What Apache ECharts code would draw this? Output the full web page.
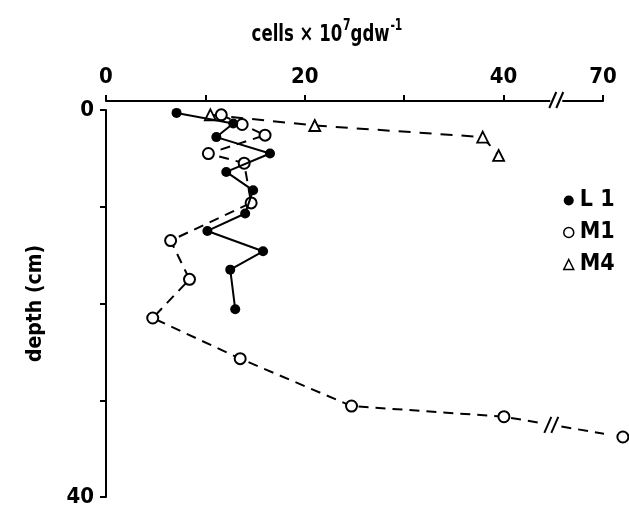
<!DOCTYPE html>
<html>
<head>
<meta charset="utf-8">
<script src="https://cdn.jsdelivr.net/npm/echarts@6/dist/echarts.min.js"></script>
<style>html,body{margin:0;padding:0;background:#fff}#c{width:629px;height:511px}</style>
</head>
<body>
<div id="c"></div>
<script>
// ---- data (cells x10^7 gdw^-1 vs depth in cm) ----
const depthL1 = [0.3, 1.4, 2.8, 4.5, 6.4, 8.3, 10.7, 12.5, 14.6, 16.5, 20.6];
const cellsL1 = [7.1, 12.8, 11.1, 16.5, 12.1, 14.8, 14.0, 10.2, 15.8, 12.5, 13.0];
const depthM1 = [0.5, 1.5, 2.6, 4.5, 5.5, 9.6, 13.5, 17.5, 21.5, 25.7, 30.6, 31.7, 33.8];
const cellsM1 = [11.6, 13.7, 16.0, 10.3, 13.9, 14.6, 6.5, 8.4, 4.7, 13.5, 24.7, 40.1, 76];
const depthM4 = [0.5, 1.6, 2.8, 4.7];
const cellsM4 = [10.5, 21.0, 37.9, 39.5];
const xTickLabels = [0, 20, 40, 70];
const yTickLabels = [0, 40];
const seriesNames = ['L 1', 'M1', 'M4'];

// broken x scale: 0..40 linear, 40..70 compressed into one 10-unit step
const BREAK_LO = 40, BREAK_HI = 70;
const K = (BREAK_HI - BREAK_LO) / 10;
function fwd(v) { return v <= BREAK_LO ? v : BREAK_LO + (v - BREAK_LO) / K; }
function inv(t) { return t <= BREAK_LO ? t : BREAK_LO + (t - BREAK_LO) * K; }
function pts(xs, ys) { return xs.map((x, i) => [fwd(x), ys[i]]); }

const FONT = "'DejaVu Sans Condensed', 'Liberation Sans Narrow', sans-serif";
const chart = echarts.init(document.getElementById('c'), null, {renderer: 'canvas'});

function slashes(cx, cy) {
  const out = [];
  [-3.5, 3.5].forEach(dx => {
    out.push({type: 'line', shape: {x1: cx + dx - 3.5, y1: cy + 8, x2: cx + dx + 3.5, y2: cy - 8},
      style: {stroke: '#000', lineWidth: 2}});
  });
  return out;
}

const m1 = pts(cellsM1, depthM1);
const XMAX = fwd(BREAK_HI);
const labelStyle = {color: '#000', fontFamily: FONT, fontWeight: 'bold', fontSize: 22};

chart.setOption({
  animation: false,
  backgroundColor: '#fff',
  graphic: [{
    type: 'text', x: 327, y: 19, scaleX: 0.8, silent: true,
    style: {
      text: '{a|cells × 10}{s|7}{a|gdw}{s|-1}', align: 'center', verticalAlign: 'top',
      rich: {
        a: {fontFamily: FONT, fontWeight: 'bold', fontSize: 23, fill: '#000', lineHeight: 28, verticalAlign: 'bottom'},
        s: {fontFamily: FONT, fontWeight: 'bold', fontSize: 15, fill: '#000', lineHeight: 28, verticalAlign: 'top', padding: [0, 0, 0, 1]}
      }
    }
  }],
  legend: {
    orient: 'vertical', left: 558, top: 184, itemGap: 9, itemWidth: 10, itemHeight: 10,
    data: [{name: seriesNames[0], icon: 'circle'}, {name: seriesNames[1], icon: 'circle', itemStyle: {borderWidth: 1.5}},
           {name: seriesNames[2], icon: 'triangle', itemStyle: {borderWidth: 1.5}}],
    textStyle: {fontFamily: FONT, fontWeight: 'bold', fontSize: 23, color: '#000', padding: [0, 0, 0, 1]}
  },
  grid: [
    {left: 106, right: 26, top: 110, bottom: 14, containLabel: false, outerBoundsMode: 'none'},
    {left: 106, right: 26, top: 100, height: 1, containLabel: false, outerBoundsMode: 'none'}
  ],
  xAxis: [
    {gridIndex: 0, type: 'value', min: 0, max: XMAX, show: false},
    {
      gridIndex: 1, type: 'value', position: 'top', min: 0, max: XMAX, interval: 10,
      axisLine: {show: true, lineStyle: {color: '#000', width: 2}},
      axisTick: {show: true, inside: false, length: 6, lineStyle: {color: '#000', width: 2}},
      axisLabel: Object.assign({margin: 12,
        formatter: t => { const v = Math.round(inv(t)); return xTickLabels.includes(v) ? String(v) : ''; }}, labelStyle),
      splitLine: {show: false}
    }
  ],
  yAxis: [
    {
      gridIndex: 0, type: 'value', inverse: true, min: 0, max: 40, interval: 10,
      name: 'depth (cm)', nameLocation: 'middle', nameGap: 60, nameRotate: 90,
      nameTextStyle: {fontFamily: FONT, fontWeight: 'bold', fontSize: 21, color: '#000'},
      axisLine: {show: true, lineStyle: {color: '#000', width: 2}},
      axisTick: {show: true, inside: false, length: 6, lineStyle: {color: '#000', width: 2}},
      axisLabel: Object.assign({margin: 12, formatter: v => yTickLabels.includes(v) ? String(v) : ''}, labelStyle),
      splitLine: {show: false}
    },
    {gridIndex: 1, type: 'value', min: 0, max: 1, show: false}
  ],
  series: [
    {
      name: seriesNames[0], type: 'line', data: pts(cellsL1, depthL1), clip: false,
      symbol: 'circle', symbolSize: 10,
      lineStyle: {color: '#000', width: 2},
      itemStyle: {color: '#000', borderColor: '#000', borderWidth: 0}, z: 3
    },
    {
      name: seriesNames[1], type: 'line', data: m1, clip: false,
      symbol: 'circle', symbolSize: 11,
      lineStyle: {color: '#000', width: 2, type: [10, 7]},
      itemStyle: {color: '#fff', borderColor: '#000', borderWidth: 2}, z: 2
    },
    {
      name: seriesNames[2], type: 'line', data: pts(cellsM4, depthM4), clip: false,
      symbol: 'triangle', symbolSize: 11,
      lineStyle: {color: '#000', width: 2, type: [12, 9]},
      itemStyle: {color: '#fff', borderColor: '#000', borderWidth: 1.8}, z: 2
    },
    {
      type: 'custom', clip: false, silent: true, z: 5,
      data: [[0, 0]],
      renderItem: (params, api) => {
        // break mark on the top axis (axis line sits 10px above the plot)
        const tb = BREAK_LO + 5.3;
        const pa = api.coord([tb, 0]);
        const children = [{type: 'rect', shape: {x: pa[0] - 6, y: pa[1] - 12, width: 12, height: 4}, style: {fill: '#fff'}}];
        slashes(pa[0], pa[1] - 10).forEach(c => children.push(c));
        // break mark on the M1 line between its last two points
        const a = m1[m1.length - 2], b = m1[m1.length - 1];
        const tl = BREAK_LO + 4.8;
        const f = (tl - a[0]) / (b[0] - a[0]);
        const pl = api.coord([tl, a[1] + f * (b[1] - a[1])]);
        children.push({type: 'rect', shape: {x: pl[0] - 9, y: pl[1] - 4, width: 18, height: 8}, style: {fill: '#fff'}});
        slashes(pl[0], pl[1]).forEach(c => children.push(c));
        return {type: 'group', children};
      }
    }
  ]
});
</script>
</body>
</html>
